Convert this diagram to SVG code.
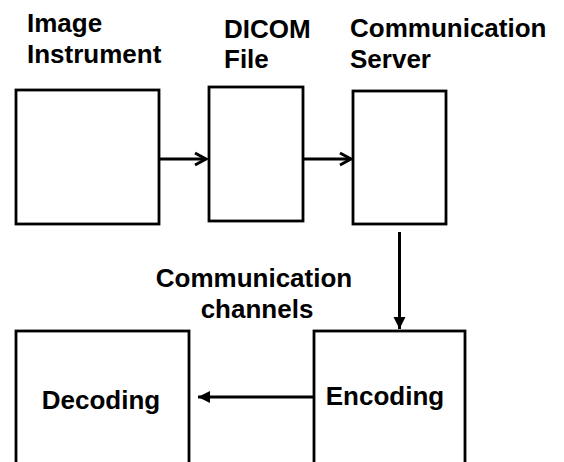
<svg xmlns="http://www.w3.org/2000/svg" width="564" height="462" viewBox="0 0 564 462">
  <style>
    .box { fill: #ffffff; stroke: #000000; stroke-width: 2.8; }
    .lbl { font-family: "Liberation Sans", Arial, sans-serif; font-weight: bold; font-size: 26px; fill: #000000; }
    .mid { text-anchor: middle; }
    .wire { stroke: #000000; stroke-width: 3; fill: none; }
  </style>
  <defs>
    <marker id="chevron" markerUnits="userSpaceOnUse" markerWidth="16" markerHeight="16" refX="13" refY="8" orient="auto" overflow="visible">
      <path d="M2,2 L13,8 L2,14" fill="none" stroke="#000000" stroke-width="3" stroke-linejoin="miter"/>
    </marker>
    <marker id="solid" markerUnits="userSpaceOnUse" markerWidth="14" markerHeight="12" refX="12" refY="6" orient="auto" overflow="visible">
      <path d="M0,0 L12,6 L0,12 Z" fill="#000000"/>
    </marker>
  </defs>

  <!-- top row headings -->
  <g id="image-instrument">
    <text class="lbl" x="27" y="32">Image</text>
    <text class="lbl" x="27" y="63">Instrument</text>
    <rect class="box" x="16" y="90" width="143" height="134"/>
  </g>
  <g id="dicom-file">
    <text class="lbl" x="224" y="38">DICOM</text>
    <text class="lbl" x="224" y="68">File</text>
    <rect class="box" x="209" y="87" width="94" height="134"/>
  </g>
  <g id="communication-server">
    <text class="lbl" x="350" y="37">Communication</text>
    <text class="lbl" x="350" y="68">Server</text>
    <rect class="box" x="353" y="91" width="93" height="133"/>
  </g>

  <!-- bottom row -->
  <g id="decoding">
    <rect class="box" x="16" y="331" width="173" height="200"/>
    <text class="lbl mid" x="101" y="409">Decoding</text>
  </g>
  <g id="encoding">
    <rect class="box" x="314" y="331" width="151" height="200"/>
    <text class="lbl mid" x="385" y="405">Encoding</text>
  </g>

  <g id="channel-label">
    <text class="lbl mid" x="254" y="287">Communication</text>
    <text class="lbl mid" x="257" y="318">channels</text>
  </g>

  <!-- connectors -->
  <g id="connectors">
    <line class="wire" x1="159" y1="159" x2="206" y2="159" marker-end="url(#chevron)"/>
    <line class="wire" x1="303" y1="159" x2="351" y2="159" marker-end="url(#chevron)"/>
    <line class="wire" x1="399.5" y1="232" x2="399.5" y2="329" marker-end="url(#solid)"/>
    <line class="wire" x1="314" y1="397" x2="198" y2="397" marker-end="url(#solid)"/>
  </g>
</svg>
